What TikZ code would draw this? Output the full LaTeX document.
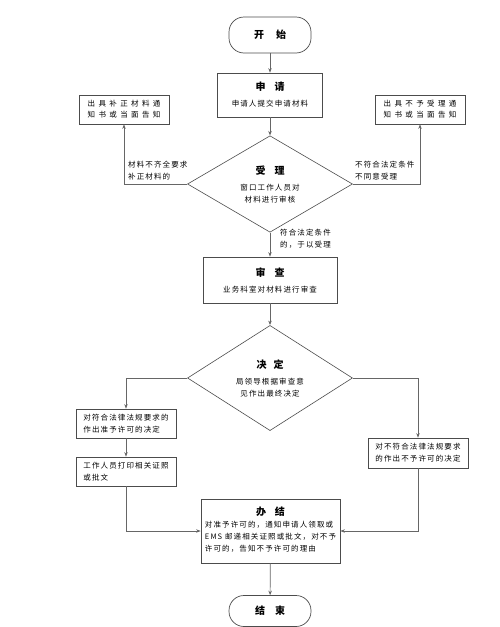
\documentclass[tikz,border=0pt]{standalone}
\usepackage{fontspec}
\setmainfont{Noto Sans CJK SC}
\newfontfamily\cjk{Noto Sans CJK SC}[LetterSpace=15]
\newfontfamily\cjkwide{Noto Sans CJK SC}[LetterSpace=45]
\newcommand{\titlefont}{\fontsize{10}{12}\selectfont\bfseries}
\usetikzlibrary{positioning,arrows.meta,shapes.geometric}

\begin{document}
\begin{tikzpicture}[
  x=1pt, y=-1pt,
  font=\cjk\fontsize{7.5}{12}\selectfont,
  every node/.style={align=center},
  terminal/.style={draw=black!70, line width=0.7pt, rounded corners=15pt, minimum width=82pt,
                   inner sep=0pt, font=\titlefont},
  stepbox/.style ={draw=black!70, line width=0.7pt, inner sep=0pt},
  check/.style   ={draw=black!70, line width=0.6pt, diamond, inner sep=0pt,
                   minimum width=165pt, minimum height=83pt},
  note/.style    ={draw=black!70, line width=0.7pt, inner sep=0pt, align=left,
                   minimum width=90pt, minimum height=29pt, font=\cjkwide\fontsize{7.5}{11}\selectfont},
  flow/.style    ={-{Stealth[length=4.5pt,width=3.5pt]}, line width=0.7pt, draw=black!60},
  lbl/.style     ={inner sep=0pt, align=left},
]
\useasboundingbox (0,0) rectangle (500,627);

% main column
\node[terminal, minimum height=36pt] (start) at (270,35) {开\hspace{12pt}始};
\node[stepbox, minimum width=105pt, minimum height=44pt] (apply) at (270,95)
  {{\titlefont 申\hspace{9pt}请}\\[4pt] 申请人提交申请材料};
\node[check] (accept) at (270,184)
  {{\titlefont 受\hspace{9pt}理}\\[4pt] 窗口工作人员对\\ 材料进行审核};
\node[stepbox, minimum width=134pt, minimum height=46pt] (review) at (270,280)
  {{\titlefont 审\hspace{9pt}查}\\[4pt] 业务科室对材料进行审查};
\node[check] (decide) at (270,378)
  {{\titlefont 决\hspace{7pt}定}\\[4pt] 局领导根据审查意\\ 见作出最终决定};
\node[stepbox, minimum width=139pt, minimum height=64pt] (done) at (270.5,531)
  {{\titlefont 办\hspace{9pt}结}\\[2pt]
   \begin{tabular}{@{}l@{}}对准予许可的，通知申请人领取或\\ EMS 邮递相关证照或批文，对不予\\ 许可的，告知不予许可的理由\end{tabular}};
\node[terminal, minimum height=31pt] (stop) at (270,611) {结\hspace{10pt}束};

% side notes
\node[note] (fixnote) at (124,109.5) {出具补正材料通\\ 知书或当面告知};
\node[note] (refusenote) at (420,109.5) {出具不予受理通\\ 知书或当面告知};

% branches of the decision
\node[stepbox, align=left, minimum width=100pt, minimum height=29pt] (grant) at (126,423.5)
  {对符合法律法规要求的\\ 作出准予许可的决定};
\node[stepbox, align=left, minimum width=100pt, minimum height=29pt] (issue) at (126,471.5)
  {工作人员打印相关证照\\ 或批文\phantom{相关证照打印}};
\node[stepbox, align=left, minimum width=100pt, minimum height=30pt] (deny) at (418,453)
  {对不符合法律法规要求\\ 的作出不予许可的决定};

% connector labels
\node[lbl, anchor=south west] (fixlbl) at (128,180) {材料不齐全要求\\ 补正材料的};
\node[lbl, anchor=south west] (refuselbl) at (355,180) {不符合法定条件\\ 不同意受理};
\node[lbl, anchor=north west] (passlbl) at (280,229) {符合法定条件\\ 的，于以受理};

\draw[flow] (start) -- (apply);
\draw[flow] (apply) -- (accept);
\draw[flow] (accept.west) -| (fixnote.south);
\draw[flow] (accept.east) -| (refusenote.south);
\draw[flow] (accept) -- (review);
\draw[flow] (review) -- (decide);
\draw[flow] (decide.west) -| (grant.north);
\draw[flow] (grant) -- (issue);
\draw[flow] (issue.south) |- (done.west);
\draw[flow] (decide.east) -| (deny.north);
\draw[flow] (deny.south) |- (done.east);
\draw[flow] (done) -- (stop);

\end{tikzpicture}
\end{document}
